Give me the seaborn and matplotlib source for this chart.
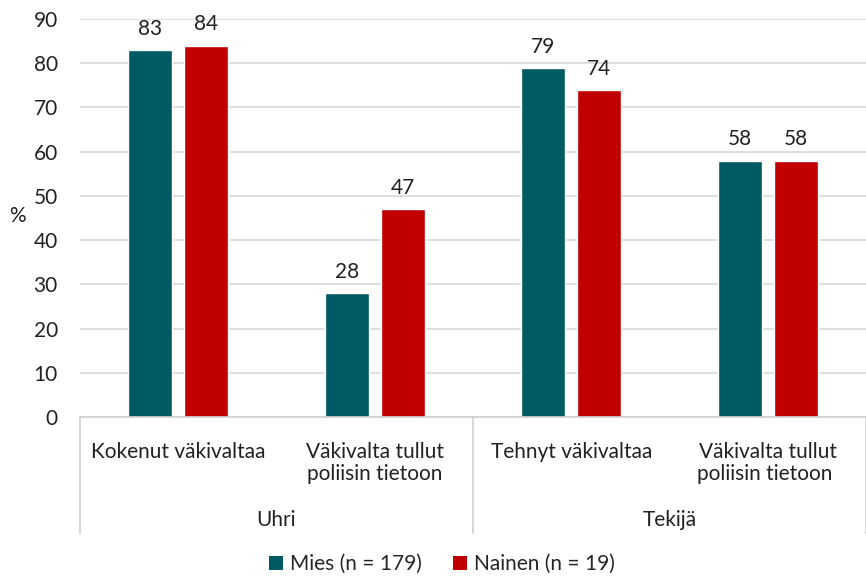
import matplotlib
matplotlib.use("Agg")
import matplotlib.pyplot as plt
import matplotlib.transforms as mtransforms
from matplotlib.patches import Patch
import seaborn as sns
import pandas as pd

categories = ["Kokenut väkivaltaa", "Väkivalta tullut\npoliisin tietoon",
              "Tehnyt väkivaltaa", "Väkivalta tullut\npoliisin tietoon "]
groups = ["Uhri", "Tekijä"]
series_names = ["Mies (n = 179)", "Nainen (n = 19)"]
mies = [83, 28, 79, 58]
nainen = [84, 47, 74, 58]
yticks = [0, 10, 20, 30, 40, 50, 60, 70, 80, 90]

colors = ["#005A64", "#C00000"]

sns.set_theme(style="white")
plt.rcParams["font.family"] = ["Lato", "DejaVu Sans"]
FS = 15

df = pd.DataFrame({
    "cat": categories * 2,
    "sex": [series_names[0]] * 4 + [series_names[1]] * 4,
    "val": mies + nainen,
})

W, H = 866, 578
fig = plt.figure(figsize=(W / 100, H / 100), dpi=100)
ax = fig.add_axes([80 / W, 1 - 417 / H, (866 - 80) / W, (417 - 19) / H])

sns.barplot(data=df, x="cat", y="val", hue="sex", order=categories,
            hue_order=series_names, palette=colors, width=0.57, gap=0.214,
            ax=ax, legend=False, saturation=1)

for c in ax.containers:
    ax.bar_label(c, padding=8, fontsize=FS, color="#222222")

ax.set_xlim(-0.5, 3.5)
ax.set_ylim(0, 90)
ax.set_yticks(yticks)
ax.yaxis.grid(True, color="#d9d9d9", linewidth=1.2)
ax.set_axisbelow(True)
for s in ["top", "right", "left"]:
    ax.spines[s].set_visible(False)
ax.spines["bottom"].set_color("#d0d0d0")
ax.spines["bottom"].set_linewidth(1.2)
ax.tick_params(axis="both", length=0, labelsize=FS, colors="#222222")
ax.tick_params(axis="x", pad=18)
ax.tick_params(axis="y", pad=16)
for lab in ax.get_xticklabels():
    lab.set_linespacing(1.15)
ax.set_xlabel("")
ax.set_ylabel("%", rotation=0, fontsize=FS, color="#222222", va="center")
ax.yaxis.set_label_coords(-0.079, 0.505)

trans = mtransforms.blended_transform_factory(ax.transData, ax.transAxes)
ybot = -(533 - 417) / (417 - 19)
for xs in [-0.5, 1.5, 3.5]:
    ax.plot([xs, xs], [0, ybot], transform=trans, color="#d0d0d0",
            linewidth=1.2, clip_on=False)
ygrp = -(520 - 417) / (417 - 19)
for i, g in enumerate(groups):
    ax.text(0.5 + 2 * i, ygrp, g, transform=trans, ha="center", va="center",
            fontsize=FS, color="#222222")

handles = [Patch(facecolor=c, edgecolor="none") for c in colors]
fig.legend(handles, series_names, loc="center", bbox_to_anchor=(442 / W, 1 - 564 / H),
           ncol=2, frameon=False, fontsize=FS, handlelength=0.65, handleheight=0.65,
           handletextpad=0.35, columnspacing=1.5)

fig.savefig("out.png", dpi=100)
